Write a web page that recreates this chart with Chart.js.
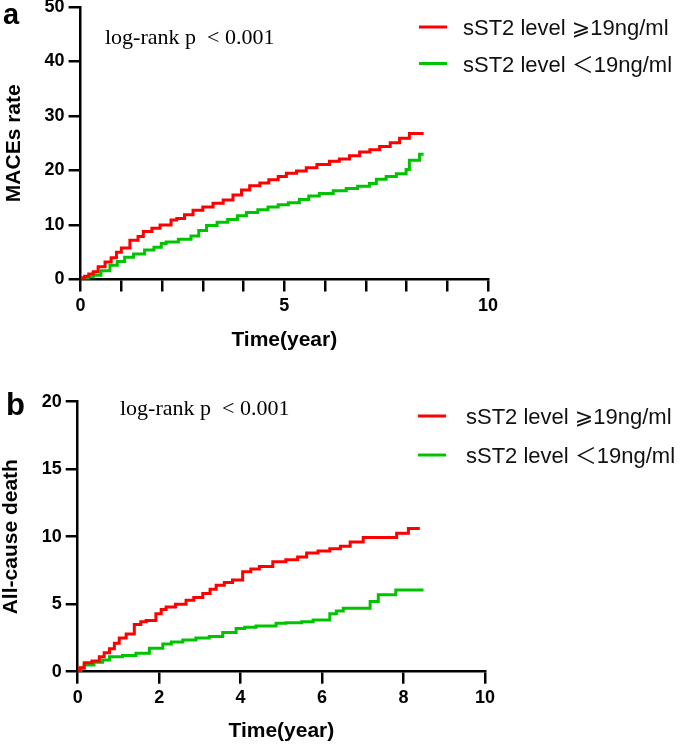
<!DOCTYPE html>
<html>
<head>
<meta charset="utf-8">
<script src="https://cdn.jsdelivr.net/npm/chart.js@4.4.1/dist/chart.umd.min.js"></script>
<style>
  html, body { margin: 0; padding: 0; background: #fff; }
  body { width: 685px; height: 746px; position: relative; overflow: hidden; }
  canvas { position: absolute; left: 0; }
  #cA { top: 0; }
  #cB { top: 370px; }
</style>
</head>
<body>
<canvas id="cA" width="685" height="370"></canvas>
<canvas id="cB" width="685" height="376"></canvas>
<script>
// ---------- data (event time, cumulative value after the step) ----------
const seriesNames = ['sST2 level \u2A7E19ng/ml', 'sST2 level \uFF1C19ng/ml'];
const panelLetters = ['a', 'b'];
const yTitles = ['MACEs rate', 'All-cause death'];
const xTitle = 'Time(year)';
const pValueText = 'log-rank p  < 0.001';

// Panel a: MACEs rate
const macesTimeHigh = [0, 0.05, 0.1, 0.2, 0.31, 0.43, 0.6, 0.75, 0.88, 1.0, 1.21, 1.41, 1.54, 1.75, 1.95, 2.22, 2.36, 2.55, 2.76, 3.0, 3.25, 3.5, 3.74, 3.95, 4.15, 4.4, 4.62, 4.85, 5.05, 5.3, 5.54, 5.8, 6.11, 6.35, 6.6, 6.85, 7.1, 7.34, 7.6, 7.83, 8.07, 8.42];
const macesHigh     = [0, 0.3, 0.6, 1.0, 1.4, 2.35, 3.2, 4.0, 5.0, 5.8, 7.2, 7.9, 8.8, 9.4, 10.0, 10.9, 11.2, 11.9, 12.7, 13.3, 14.0, 14.6, 15.5, 16.4, 17.2, 17.7, 18.3, 18.9, 19.5, 19.9, 20.5, 21.1, 21.7, 22.1, 22.7, 23.4, 23.8, 24.4, 25.1, 25.9, 26.8, 26.8];
const macesTimeLow  = [0, 0.08, 0.18, 0.31, 0.5, 0.72, 0.9, 1.08, 1.3, 1.57, 1.8, 1.98, 2.1, 2.4, 2.71, 2.9, 3.09, 3.35, 3.61, 3.85, 4.07, 4.35, 4.6, 4.85, 5.1, 5.37, 5.6, 5.86, 6.2, 6.52, 6.8, 7.09, 7.26, 7.5, 7.75, 7.99, 8.07, 8.32, 8.42];
const macesLow      = [0, 0.2, 0.5, 0.8, 1.6, 2.6, 3.3, 4.1, 4.7, 5.4, 5.9, 6.6, 6.9, 7.4, 8.0, 9.0, 9.9, 10.5, 11.0, 11.7, 12.3, 12.8, 13.3, 13.7, 14.1, 14.7, 15.3, 15.8, 16.3, 16.7, 17.1, 17.6, 18.4, 18.9, 19.4, 20.2, 21.9, 23.0, 23.0];

// Panel b: All-cause death
const deathTimeHigh = [0, 0.05, 0.16, 0.35, 0.53, 0.65, 0.78, 0.9, 1.02, 1.19, 1.39, 1.55, 1.68, 1.92, 2.05, 2.17, 2.4, 2.66, 2.85, 3.07, 3.25, 3.4, 3.6, 3.8, 4.05, 4.25, 4.46, 4.79, 5.11, 5.4, 5.62, 5.9, 6.19, 6.45, 6.69, 7.01, 7.83, 8.12, 8.4];
const deathHigh     = [0, 0.3, 0.67, 0.8, 1.1, 1.4, 1.7, 2.1, 2.5, 2.8, 3.5, 3.7, 3.8, 4.3, 4.6, 4.8, 5.0, 5.3, 5.5, 5.8, 6.1, 6.4, 6.6, 6.8, 7.4, 7.6, 7.8, 8.15, 8.3, 8.5, 8.8, 8.95, 9.1, 9.3, 9.6, 9.95, 10.25, 10.6, 10.6];
const deathTimeLow  = [0, 0.08, 0.16, 0.4, 0.61, 0.78, 1.1, 1.43, 1.76, 2.09, 2.3, 2.58, 2.9, 3.23, 3.56, 3.89, 4.1, 4.38, 4.87, 5.11, 5.5, 5.78, 6.19, 6.35, 6.52, 7.18, 7.38, 7.81, 8.49];
const deathLow      = [0, 0.25, 0.5, 0.7, 0.87, 1.1, 1.2, 1.36, 1.73, 2.05, 2.2, 2.35, 2.5, 2.6, 2.9, 3.2, 3.3, 3.38, 3.58, 3.63, 3.7, 3.83, 4.3, 4.5, 4.7, 5.2, 5.7, 6.05, 6.05];

// tick labels
const xTicksA = [0, 1, 2, 3, 4, 5, 6, 7, 8, 9, 10];
const xLabelsA = [0, 5, 10];
const yTicksA = [0, 10, 20, 30, 40, 50];
const xTicksB = [0, 2, 4, 6, 8, 10];
const xLabelsB = [0, 2, 4, 6, 8, 10];
const yTicksB = [0, 5, 10, 15, 20];

// ---------- drawing ----------
const RED = '#ff0000';
const GREEN = '#00c400';
const SANS = '"Liberation Sans", Arial, "DejaVu Sans", "Noto Sans CJK SC", sans-serif';
const SERIF = '"Liberation Serif", "Times New Roman", serif';

function pts(ts, vs) { return ts.map((t, i) => ({ x: t, y: vs[i] })); }

function makeChart(id, g) {
  const overlay = {
    id: 'overlay_' + id,
    afterDraw(chart) {
      const ctx = chart.ctx;
      ctx.save();
      ctx.fillStyle = '#000';
      ctx.textAlign = 'left';
      ctx.textBaseline = 'alphabetic';
      ctx.font = 'bold ' + g.letterSize + 'px ' + SANS;
      ctx.fillText(g.letter, g.letterX, g.letterY);
      ctx.font = g.pSize + 'px ' + SERIF;
      ctx.fillText(pValueText, g.pX, g.pY);
      ctx.font = g.legSize + 'px ' + SANS;
      g.legend.forEach((row) => {
        ctx.strokeStyle = row.color;
        ctx.lineWidth = 3;
        ctx.beginPath();
        ctx.moveTo(g.legX0, row.y);
        ctx.lineTo(g.legX1, row.y);
        ctx.stroke();
        ctx.fillStyle = '#111';
        ctx.fillText(row.text, g.legTextX, row.y + g.legBaseOff);
      });
      ctx.restore();
    }
  };

  return new Chart(document.getElementById(id), {
    type: 'line',
    data: {
      datasets: g.series.map(s => ({
        label: s.name,
        data: pts(s.t, s.v),
        borderColor: s.color,
        backgroundColor: s.color,
        borderWidth: 3,
        pointRadius: 0,
        stepped: true,
        fill: false,
        tension: 0
      }))
    },
    options: {
      responsive: false,
      animation: false,
      events: [],
      layout: { padding: { left: 0, top: g.top, right: g.W - g.right, bottom: 0 } },
      plugins: { legend: { display: false }, tooltip: { enabled: false } },
      scales: {
        x: {
          type: 'linear',
          min: g.xTicks[0],
          max: g.xTicks[g.xTicks.length - 1],
          afterBuildTicks(scale) { scale.ticks = g.xTicks.map(v => ({ value: v })); },
          afterFit(scale) { scale.height = g.H - g.bottom; scale.paddingLeft = 0; scale.paddingRight = 0; },
          border: { display: true, color: '#000', width: 2.5 },
          grid: { drawOnChartArea: false, drawTicks: true, tickLength: 12, color: '#000', lineWidth: 2.5 },
          ticks: {
            padding: 4,
            color: '#000',
            maxRotation: 0,
            autoSkip: false,
            font: { family: SANS, size: 18, weight: 'bold' },
            callback: v => (g.xLabels.includes(v) ? String(v) : '')
          },
          title: {
            display: true, text: xTitle, color: '#000',
            font: { family: SANS, size: 21, weight: 'bold', lineHeight: 1 },
            padding: { top: 0, bottom: g.xTitlePad }
          }
        },
        y: {
          type: 'linear',
          min: g.yTicks[0],
          max: g.yTicks[g.yTicks.length - 1],
          afterBuildTicks(scale) { scale.ticks = g.yTicks.map(v => ({ value: v })); },
          afterFit(scale) { scale.width = g.left; scale.paddingTop = 0; scale.paddingBottom = 0; },
          border: { display: true, color: '#000', width: 2.5 },
          grid: { drawOnChartArea: false, drawTicks: true, tickLength: 12, color: '#000', lineWidth: 2.5 },
          ticks: {
            padding: 4,
            color: '#000',
            font: { family: SANS, size: 18, weight: 'bold' },
            callback: v => String(v)
          },
          title: {
            display: true, text: g.yTitle, color: '#000',
            font: { family: SANS, size: 21, weight: 'bold', lineHeight: 1 },
            padding: { top: g.yTitlePad, bottom: 0 }
          }
        }
      }
    },
    plugins: [overlay]
  });
}

makeChart('cA', {
  W: 685, H: 370, left: 80.6, top: 7, right: 488, bottom: 279.5,
  xTicks: xTicksA, xLabels: xLabelsA, yTicks: yTicksA,
  yTitle: yTitles[0], yTitlePad: 4, xTitlePad: 19,
  letter: panelLetters[0], letterSize: 29, letterX: 3, letterY: 24,
  pSize: 22, pX: 105, pY: 44,
  legSize: 22, legX0: 419, legX1: 447, legTextX: 463, legBaseOff: 8,
  legend: [ { color: RED, y: 27, text: seriesNames[0] }, { color: GREEN, y: 63.5, text: seriesNames[1] } ],
  series: [
    { name: seriesNames[0], color: RED, t: macesTimeHigh, v: macesHigh },
    { name: seriesNames[1], color: GREEN, t: macesTimeLow, v: macesLow }
  ]
});

makeChart('cB', {
  W: 685, H: 376, left: 77.7, top: 31.7, right: 485, bottom: 301.7,
  xTicks: xTicksB, xLabels: xLabelsB, yTicks: yTicksB,
  yTitle: yTitles[1], yTitlePad: 1, xTitlePad: 4,
  letter: panelLetters[1], letterSize: 31, letterX: 6, letterY: 45,
  pSize: 22, pX: 120, pY: 45,
  legSize: 22, legX0: 418, legX1: 446, legTextX: 466, legBaseOff: 8,
  legend: [ { color: RED, y: 46, text: seriesNames[0] }, { color: GREEN, y: 85, text: seriesNames[1] } ],
  series: [
    { name: seriesNames[0], color: RED, t: deathTimeHigh, v: deathHigh },
    { name: seriesNames[1], color: GREEN, t: deathTimeLow, v: deathLow }
  ]
});
</script>
</body>
</html>
